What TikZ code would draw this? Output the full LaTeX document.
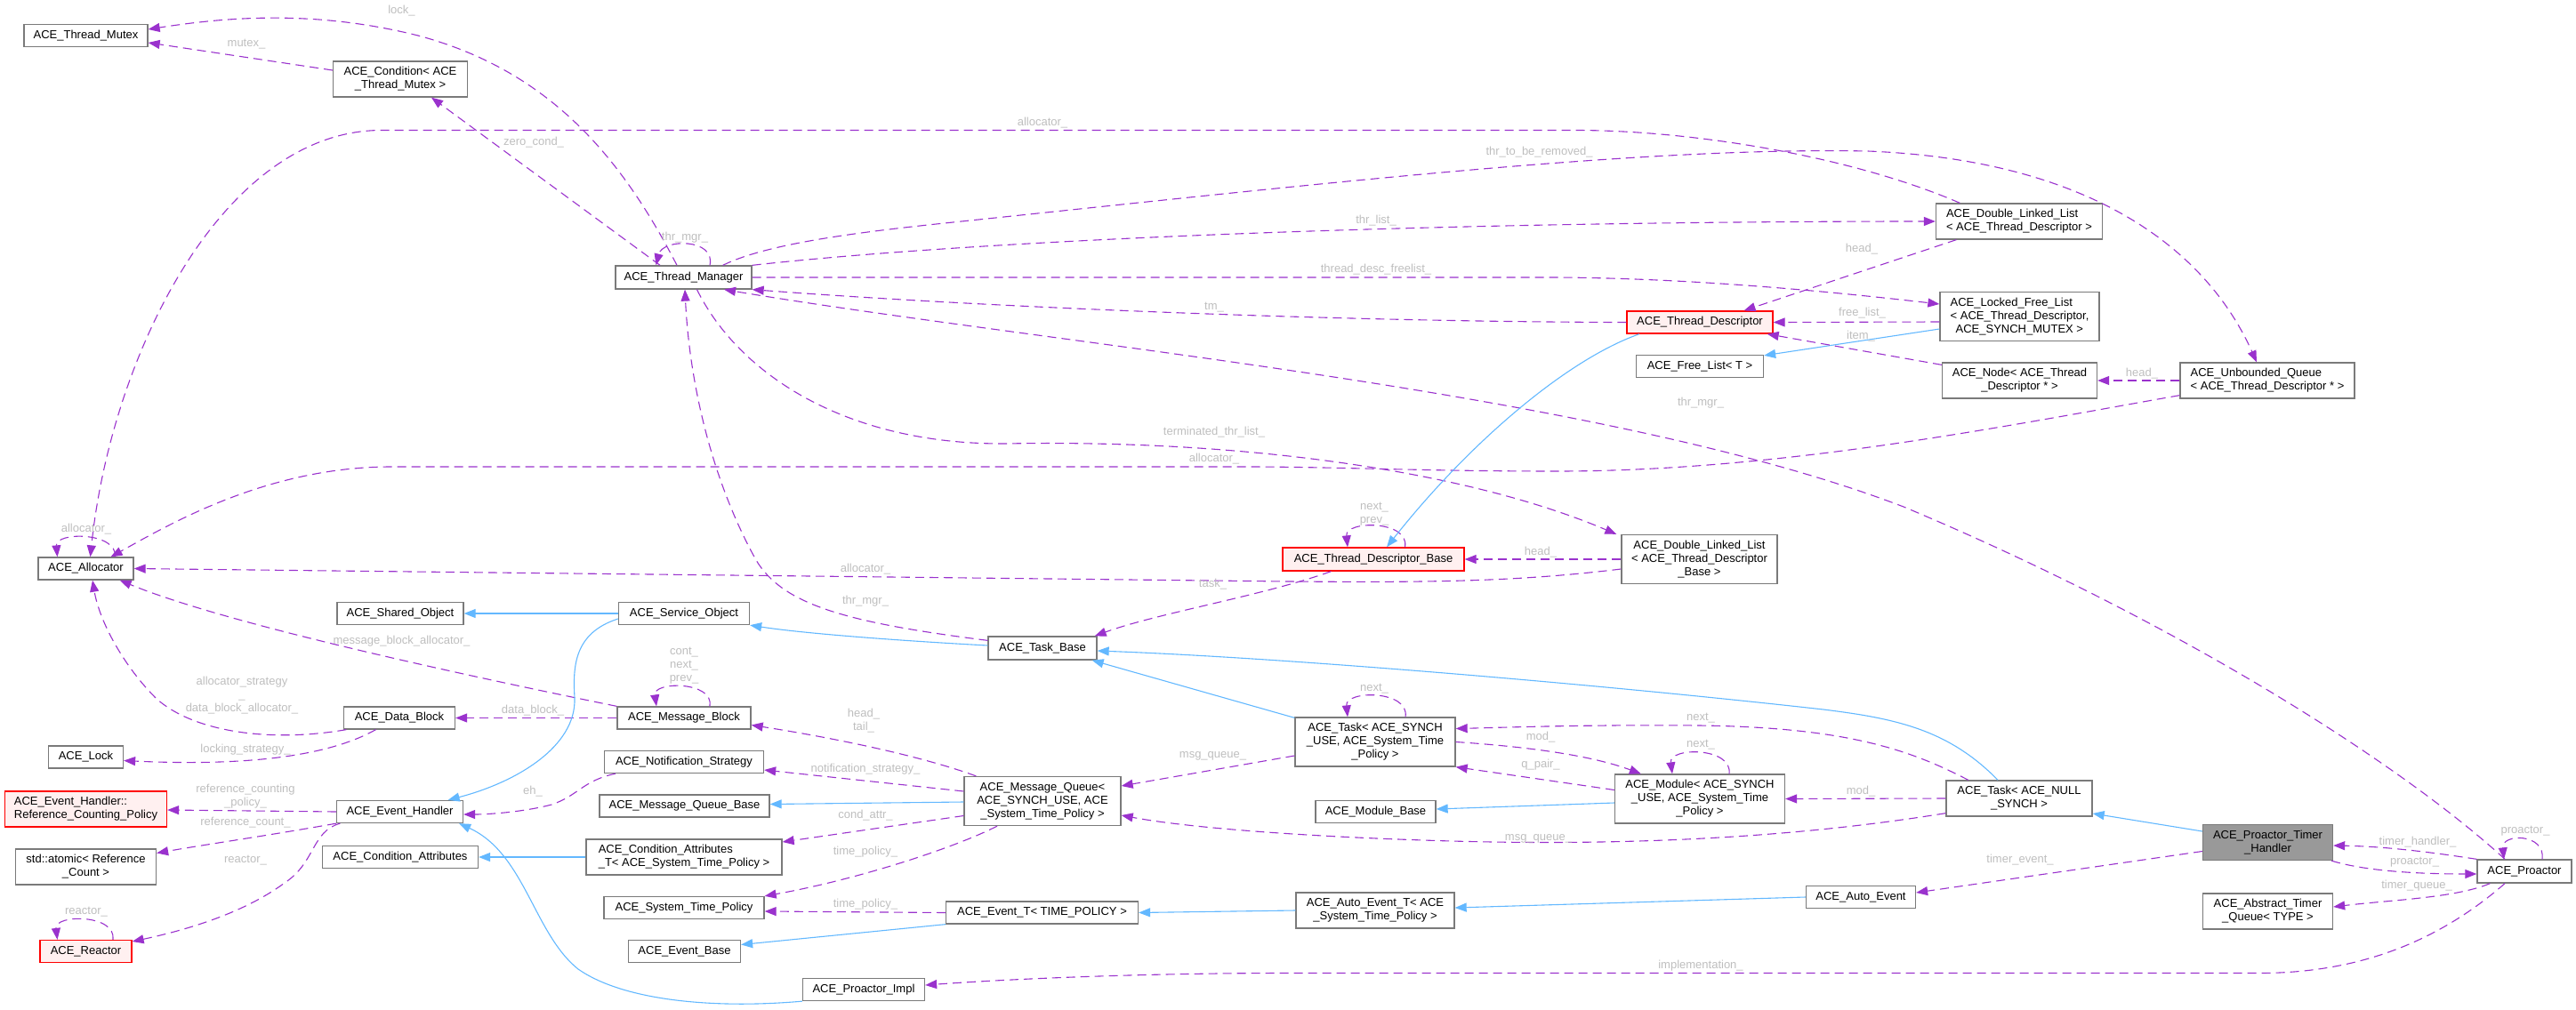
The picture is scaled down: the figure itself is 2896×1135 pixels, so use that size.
\documentclass[tikz,border=0pt]{standalone}
\usepackage{fontspec}
\setmainfont{Liberation Sans}
\usetikzlibrary{arrows.meta}
\definecolor{edgepurple}{HTML}{9A32CD}
\definecolor{inhblue}{HTML}{63B8FF}
\definecolor{boxgray}{HTML}{7A7A7A}
\definecolor{lblgray}{HTML}{BEBEBE}
\definecolor{truncfill}{HTML}{FFF0F0}
\definecolor{curfill}{HTML}{999999}
\begin{document}
\begin{tikzpicture}[x=1pt,y=-1pt,font=\fontsize{13}{15}\selectfont,
classbox/.style={draw=boxgray, line width=1.3pt, fill=white, inner xsep=3pt, inner ysep=0pt, minimum height=25pt, align=center},
truncbox/.style={classbox, draw=red, fill=truncfill},
curbox/.style={classbox, fill=curfill},
lbl/.style={text=lblgray, inner sep=0pt, align=center},
assoc/.style={draw=edgepurple, line width=1.1pt, dash pattern=on 10pt off 6pt, -{Triangle[length=13pt,width=10pt]}},
inh/.style={draw=inhblue, line width=1.1pt, -{Triangle[length=13pt,width=10pt]}}]
\useasboundingbox (0,0) rectangle (2896,1135);
\node[classbox, minimum width=139] (cls0) at (96.5,40) {ACE\_Thread\_Mutex};
\node[classbox, minimum width=151, minimum height=40] (cls1) at (450,89) {ACE\_Condition< ACE\\\_Thread\_Mutex >};
\node[classbox, minimum width=153, minimum height=26] (cls2) at (768.5,312) {ACE\_Thread\_Manager};
\node[truncbox, minimum width=164] (cls3) at (1911,362.5) {ACE\_Thread\_Descriptor};
\node[classbox, minimum width=143] (cls4) at (1911,412) {ACE\_Free\_List< T >};
\node[classbox, minimum width=187, minimum height=40, align=left] (cls5) at (2270,249) {ACE\_Double\_Linked\_List\\< ACE\_Thread\_Descriptor >};
\node[classbox, minimum width=179, minimum height=55, align=left] (cls6) at (2270.5,356) {ACE\_Locked\_Free\_List\\< ACE\_Thread\_Descriptor,\\\hspace*{6pt}ACE\_SYNCH\_MUTEX >};
\node[classbox, minimum width=174, minimum height=40] (cls7) at (2270.5,428) {ACE\_Node< ACE\_Thread\\\_Descriptor * >};
\node[classbox, minimum width=196, minimum height=40, align=left] (cls8) at (2549,428) {ACE\_Unbounded\_Queue\\< ACE\_Thread\_Descriptor * >};
\node[classbox, minimum width=107] (cls9) at (96.5,639.5) {ACE\_Allocator};
\node[classbox, minimum width=142] (cls10) at (450,690) {ACE\_Shared\_Object};
\node[classbox, minimum width=147] (cls11) at (769,690) {ACE\_Service\_Object};
\node[truncbox, minimum width=204, minimum height=26] (cls12) at (1544,629) {ACE\_Thread\_Descriptor\_Base};
\node[classbox, minimum width=175, minimum height=55] (cls13) at (1910.5,629) {ACE\_Double\_Linked\_List\\< ACE\_Thread\_Descriptor\\\_Base >};
\node[classbox, minimum width=122, minimum height=26] (cls14) at (1172,729) {ACE\_Task\_Base};
\node[classbox, minimum width=125] (cls15) at (449,807.5) {ACE\_Data\_Block};
\node[classbox, minimum width=150] (cls16) at (769,807.5) {ACE\_Message\_Block};
\node[classbox, minimum width=84] (cls17) at (96.5,851.5) {ACE\_Lock};
\node[classbox, minimum width=180, minimum height=55] (cls18) at (1546,834.5) {ACE\_Task< ACE\_SYNCH\\\_USE, ACE\_System\_Time\\\_Policy >};
\node[classbox, minimum width=179] (cls19) at (769,857) {ACE\_Notification\_Strategy};
\node[truncbox, minimum width=182, minimum height=40, align=left] (cls20) at (96.5,910) {ACE\_Event\_Handler::\\Reference\_Counting\_Policy};
\node[classbox, minimum width=142] (cls21) at (449.5,913) {ACE\_Event\_Handler};
\node[classbox, minimum width=191] (cls22) at (769.5,906.5) {ACE\_Message\_Queue\_Base};
\node[classbox, minimum width=176, minimum height=55] (cls23) at (1172,901) {ACE\_Message\_Queue<\\ACE\_SYNCH\_USE, ACE\\\_System\_Time\_Policy >};
\node[classbox, minimum width=135] (cls24) at (1546.5,913) {ACE\_Module\_Base};
\node[classbox, minimum width=191, minimum height=55] (cls25) at (1911,898.5) {ACE\_Module< ACE\_SYNCH\\\_USE, ACE\_System\_Time\\\_Policy >};
\node[classbox, minimum width=164, minimum height=40] (cls26) at (2270,898) {ACE\_Task< ACE\_NULL\\\_SYNCH >};
\node[classbox, minimum width=158, minimum height=40] (cls27) at (96.5,975) {std::atomic< Reference\\\_Count >};
\node[classbox, minimum width=175] (cls28) at (450,964) {ACE\_Condition\_Attributes};
\node[classbox, minimum width=220, minimum height=40, align=left] (cls29) at (769,964) {ACE\_Condition\_Attributes\\\_T< ACE\_System\_Time\_Policy >};
\node[curbox, minimum width=146, minimum height=40] (cls30) at (2549.5,947.5) {ACE\_Proactor\_Timer\\\_Handler};
\node[classbox, minimum width=106, minimum height=26] (cls31) at (2838,980) {ACE\_Proactor};
\node[classbox, minimum width=180] (cls32) at (769,1021) {ACE\_System\_Time\_Policy};
\node[classbox, minimum width=216] (cls33) at (1171.5,1026.5) {ACE\_Event\_T< TIME\_POLICY >};
\node[classbox, minimum width=178, minimum height=40] (cls34) at (1546,1024) {ACE\_Auto\_Event\_T< ACE\\\_System\_Time\_Policy >};
\node[classbox, minimum width=123] (cls35) at (2092,1009) {ACE\_Auto\_Event};
\node[classbox, minimum width=146, minimum height=40] (cls36) at (2549.5,1025) {ACE\_Abstract\_Timer\\\_Queue< TYPE >};
\node[classbox, minimum width=126] (cls37) at (769.5,1070) {ACE\_Event\_Base};
\node[truncbox, minimum width=103] (cls38) at (96.5,1070) {ACE\_Reactor};
\node[classbox, minimum width=137] (cls39) at (971,1113) {ACE\_Proactor\_Impl};
\draw[assoc] ([yshift=10]cls1.west) -- ([yshift=-8]cls0.east);
\draw[assoc] ([xshift=-7.5]cls2.north) .. controls (700,180) and (620,80) .. (470,40) .. controls (350,10) and (250,20) .. ([yshift=7]cls0.east);
\draw[assoc] ([xshift=-26.5]cls2.north) -- ([xshift=35]cls1.south);
\draw[assoc] ([xshift=29.5]cls2.north) .. controls (805,268) and (745,268) .. ([xshift=-31]cls2.north);
\draw[assoc] ([xshift=27.5]cls5.north west) .. controls (2080,175) and (1900,146.5) .. (1771,146.5) -- (429,146.5) .. controls (250,146.5) and (125,400) .. ([xshift=5]cls9.north);
\draw[assoc] ([xshift=-33]cls2.north east) .. controls (870,270) and (1000,257.5) .. (1100,247) .. controls (1500,205) and (1850,165) .. (2100,170) .. controls (2350,180) and (2480,280) .. ([xshift=-12]cls8.north);
\draw[assoc] (cls2.north east) .. controls (1100,270) and (1600,249) .. (cls5.west);
\draw[assoc] (cls2.east) -- (1750,312) .. controls (1900,313) and (2050,327) .. ([yshift=14]cls6.west);
\draw[assoc] (cls3.west) .. controls (1500,362) and (1100,345) .. (cls2.south east);
\draw[assoc] ([xshift=-22]cls31.north) .. controls (2700,860) and (2450,700) .. (2140,570) .. controls (1800,440) and (1200,390) .. ([xshift=45.5]cls2.south);
\draw[assoc] ([xshift=15]cls2.south) .. controls (830,420) and (950,500) .. (1130,499) .. controls (1400,494) and (1650,530) .. ([xshift=-5]cls13.north west);
\draw[assoc] ([yshift=4]cls8.south west) .. controls (2250,480) and (2000,530) .. (1750,530) .. controls (1600,530) and (1500,525) .. (1400,525) -- (440,525) .. controls (300,525) and (190,590) .. ([xshift=28]cls9.north);
\draw[assoc] ([xshift=33]cls9.north) .. controls (132,598) and (62,598) .. ([xshift=-32]cls9.north);
\draw[assoc] ([yshift=-11]cls13.west) .. controls (1700,655) and (1600,655) .. (1448,654) -- (cls9.east);
\draw[assoc] ([xshift=-47.5]cls12.south) .. controls (1420,670) and (1300,690) .. ([xshift=-3]cls14.north east);
\draw[assoc] (cls13.west) -- (cls12.east);
\draw[assoc] ([xshift=35.5]cls12.north) .. controls (1585,585) and (1512,585) .. ([xshift=-29]cls12.north);
\draw[inh] ([xshift=-68]cls3.south) .. controls (1760,405) and (1650,500) .. ([xshift=15]cls12.north);
\draw[inh] ([yshift=-14]cls6.west) -- ([yshift=-1]cls4.north east);
\draw[assoc] ([yshift=-6]cls6.west) -- (cls3.east);
\draw[assoc] ([yshift=-3]cls7.north west) -- ([xshift=-7]cls3.south east);
\draw[assoc] ([xshift=23.5]cls5.south west) -- ([xshift=49.5]cls3.north);
\draw[assoc] (cls8.west) -- (cls7.east);
\draw[assoc] (cls16.north west) .. controls (500,755) and (250,700) .. ([xshift=-16]cls9.south east);
\draw[assoc] ([xshift=3.5]cls15.south west) .. controls (300,836) and (215,822) .. (175,785) .. controls (140,750) and (112,700) .. ([xshift=7.5]cls9.south);
\draw[assoc] ([xshift=-26.5]cls15.south) .. controls (370,850) and (280,862) .. ([yshift=-4]cls17.east);
\draw[assoc] (cls16.west) -- (cls15.east);
\draw[assoc] ([xshift=29]cls16.north) .. controls (803,766) and (734,766) .. ([xshift=-31]cls16.north);
\draw[inh] (cls11.west) -- (cls10.east);
\draw[inh] ([yshift=-6]cls11.west) .. controls (645,712) and (644,750) .. (646,785) .. controls (648,840) and (580,880) .. ([xshift=-17.5]cls21.north east);
\draw[inh] ([yshift=3]cls14.west) .. controls (1000,720) and (900,712) .. (cls11.south east);
\draw[assoc] ([yshift=-5]cls14.north west) .. controls (950,700) and (880,680) .. (850,630) .. controls (800,540) and (775,430) .. ([xshift=1.5]cls2.south);
\draw[inh] ([yshift=-1]cls18.north west) -- ([xshift=-6]cls14.south east);
\draw[inh] ([xshift=-24]cls26.north) .. controls (2190,820) and (2130,808) .. (2050,798) .. controls (1800,770) and (1450,740) .. ([yshift=-3]cls14.east);
\draw[assoc] ([xshift=34]cls18.north) .. controls (1585,776) and (1512,776) .. ([xshift=-31]cls18.north);
\draw[assoc] ([xshift=25.5]cls26.north west) .. controls (2150,845) and (2080,818) .. (1910,816) .. controls (1780,815) and (1700,818) .. ([yshift=15]cls18.east);
\draw[assoc] (cls18.east) .. controls (1720,840) and (1790,850) .. ([xshift=30]cls25.north west);
\draw[assoc] ([yshift=10]cls25.west) -- (cls18.south east);
\draw[assoc] ([xshift=33]cls25.north) .. controls (1948,840) and (1876,840) .. ([xshift=-31]cls25.north);
\draw[inh] ([yshift=-4.5]cls25.west) -- ([yshift=3]cls24.east);
\draw[assoc] (cls26.west) -- (cls25.east);
\draw[assoc] ([yshift=4]cls26.south west) .. controls (2000,945) and (1800,952) .. (1600,945) .. controls (1450,940) and (1330,930) .. ([yshift=-16]cls23.east);
\draw[assoc] ([yshift=-15.5]cls18.west) -- ([yshift=17]cls23.east);
\draw[assoc] ([xshift=14]cls23.north west) .. controls (1040,852) and (950,832) .. ([yshift=-8]cls16.east);
\draw[assoc] ([yshift=11]cls23.west) -- ([yshift=-9]cls19.east);
\draw[inh] ([yshift=-1]cls23.west) -- ([yshift=2]cls22.east);
\draw[assoc] ([yshift=-16.5]cls23.west) -- ([yshift=17]cls29.east);
\draw[assoc] ([xshift=-51]cls23.south) .. controls (1070,955) and (960,990) .. (cls32.north east);
\draw[assoc] (cls33.west) -- ([yshift=-4]cls32.east);
\draw[inh] (cls33.south west) -- ([yshift=7.5]cls37.east);
\draw[inh] (cls34.west) -- (cls33.east);
\draw[inh] (cls35.west) -- ([yshift=3]cls34.east);
\draw[assoc] ([yshift=-10]cls30.west) -- ([yshift=5]cls35.east);
\draw[inh] ([yshift=12.5]cls30.west) -- ([yshift=-17]cls26.east);
\draw[assoc] (cls31.north west) .. controls (2730,958) and (2680,952) .. ([yshift=-3.5]cls30.east);
\draw[assoc] ([xshift=-2]cls30.south east) .. controls (2660,980) and (2720,983) .. ([yshift=-3]cls31.west);
\draw[assoc] ([xshift=15]cls31.south west) .. controls (2760,1010) and (2690,1012) .. ([yshift=5]cls36.east);
\draw[assoc] ([xshift=20]cls31.north) .. controls (2862,937) and (2812,937) .. ([xshift=-23]cls31.north);
\draw[assoc] ([xshift=-22]cls31.south) .. controls (2740,1060) and (2650,1094.5) .. (2540,1094.5) -- (1448,1094.5) .. controls (1300,1094.5) and (1150,1100) .. ([yshift=5]cls39.east);
\draw[inh] (cls39.south west) .. controls (800,1135) and (700,1125) .. (650,1090) .. controls (600,1050) and (590,960) .. ([xshift=-5]cls21.south east);
\draw[assoc] (cls21.west) -- ([yshift=-1]cls20.east);
\draw[assoc] (cls21.south west) .. controls (300,940) and (230,950) .. ([yshift=15.5]cls27.east);
\draw[assoc] ([xshift=4.5]cls21.south west) .. controls (350,935) and (355,970) .. (320,993) .. controls (270,1030) and (200,1048) .. ([yshift=11]cls38.east);
\draw[assoc] ([xshift=30.5]cls38.north) .. controls (131,1028) and (61,1028) .. ([xshift=-32]cls38.north);
\draw[assoc] ([xshift=13]cls19.south west) .. controls (655,878) and (650,895) .. (620,905) .. controls (590,913) and (550,916) .. ([yshift=-3]cls21.east);
\draw[inh] (cls29.west) -- (cls28.east);
\node[lbl] (lbl0) at (451.5,12) {lock\_};
\node[lbl] (lbl1) at (277,50) {mutex\_};
\node[lbl] (lbl2) at (600,160) {zero\_cond\_};
\node[lbl] (lbl3) at (770,267) {thr\_mgr\_};
\node[lbl] (lbl4) at (1172,138) {allocator\_};
\node[lbl] (lbl5) at (1730.5,171.5) {thr\_to\_be\_removed\_};
\node[lbl] (lbl6) at (1547,248) {thr\_list\_};
\node[lbl] (lbl7) at (2093,280.5) {head\_};
\node[lbl] (lbl8) at (1547,303.5) {thread\_desc\_freelist\_};
\node[lbl] (lbl9) at (1365,346) {tm\_};
\node[lbl] (lbl10) at (2093.5,352.5) {free\_list\_};
\node[lbl] (lbl11) at (2092,378) {item\_};
\node[lbl] (lbl12) at (2408,420) {head\_};
\node[lbl] (lbl13) at (1912,453) {thr\_mgr\_};
\node[lbl] (lbl14) at (1365,486) {terminated\_thr\_list\_};
\node[lbl] (lbl15) at (1365,516) {allocator\_};
\node[lbl] (lbl16) at (1545,578) {next\_\\prev\_};
\node[lbl] (lbl17) at (97,595) {allocator\_};
\node[lbl] (lbl18) at (1732,621) {head\_};
\node[lbl] (lbl19) at (973,640.5) {allocator\_};
\node[lbl] (lbl20) at (1363.5,657) {task\_};
\node[lbl] (lbl21) at (973,676) {thr\_mgr\_};
\node[lbl] (lbl22) at (451.5,721) {message\_block\_allocator\_};
\node[lbl] (lbl23) at (769,748.5) {cont\_\\next\_\\prev\_};
\node[lbl] (lbl24) at (1545,775) {next\_};
\node[lbl] (lbl25) at (272,782.5) {allocator\_strategy\\\_\\data\_block\_allocator\_};
\node[lbl] (lbl26) at (599,799.5) {data\_block\_};
\node[lbl] (lbl27) at (971,811) {head\_\\tail\_};
\node[lbl] (lbl28) at (1912,808) {next\_};
\node[lbl] (lbl29) at (1732,829) {mod\_};
\node[lbl] (lbl30) at (1912,838) {next\_};
\node[lbl] (lbl31) at (276,843) {locking\_strategy\_};
\node[lbl] (lbl32) at (1363.5,850.5) {msg\_queue\_};
\node[lbl] (lbl33) at (1732,860) {q\_pair\_};
\node[lbl] (lbl34) at (973,865) {notification\_strategy\_};
\node[lbl] (lbl35) at (276,896) {reference\_counting\\\_policy\_};
\node[lbl] (lbl36) at (599,890) {eh\_};
\node[lbl] (lbl37) at (2092,890) {mod\_};
\node[lbl] (lbl38) at (973,917) {cond\_attr\_};
\node[lbl] (lbl39) at (276,925) {reference\_count\_};
\node[lbl] (lbl40) at (2839,935) {proactor\_};
\node[lbl] (lbl41) at (1729.5,943) {msg\_queue\_};
\node[lbl] (lbl42) at (2718,947.5) {timer\_handler\_};
\node[lbl] (lbl43) at (973,958.5) {time\_policy\_};
\node[lbl] (lbl44) at (2271,967) {timer\_event\_};
\node[lbl] (lbl45) at (276,968) {reactor\_};
\node[lbl] (lbl46) at (2714.5,970) {proactor\_};
\node[lbl] (lbl47) at (2717,996) {timer\_queue\_};
\node[lbl] (lbl48) at (973,1017) {time\_policy\_};
\node[lbl] (lbl49) at (97,1026) {reactor\_};
\node[lbl] (lbl50) at (1912,1086) {implementation\_};
\end{tikzpicture}
\end{document}
